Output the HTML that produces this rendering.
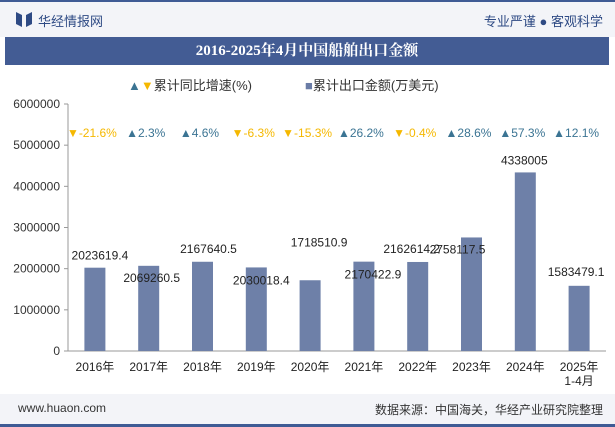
<!DOCTYPE html>
<html><head><meta charset="utf-8"><style>
body{margin:0;width:615px;height:427px;background:#fff;font-family:"Liberation Sans","Noto Sans CJK SC",sans-serif;overflow:hidden;position:relative}
.top{position:absolute;left:0;top:0;width:615px;height:37px;background:#f3f4f8;border-top:2px solid #3f5b95;box-sizing:border-box}
.title{position:absolute;left:5px;top:37px;width:604px;height:28px;background:#435c94;color:#fff;font:bold 15px "Liberation Serif","Noto Serif CJK SC",serif;text-align:center;line-height:28px}
.foot{position:absolute;left:0;top:394px;width:615px;height:33px;background:#f3f4f8;border-bottom:3px solid #3f5b95;box-sizing:border-box;font-size:12px;color:#333}
</style></head><body>
<div class="top">
<svg style="position:absolute;left:16px;top:10px" width="16" height="15"><path d="M0 0L6 3V15L0 12Z M16 0L10 3V15L16 12Z" fill="#2e4a84"/></svg>
<span style="position:absolute;left:38px;top:9px;font-size:13px;color:#2e4a84">华经情报网</span>
<span style="position:absolute;right:12px;top:9px;font-size:13px;color:#2e4a84">专业严谨 ● 客观科学</span>
</div>
<div class="title">2016-2025年4月中国船舶出口金额</div>
<div class="foot">
<span style="position:absolute;left:18px;top:7px">www.huaon.com</span>
<span style="position:absolute;right:12px;top:7px">数据来源：中国海关，华经产业研究院整理</span>
</div>
<svg id="c" width="615" height="427" style="position:absolute;left:0;top:0"></svg>
<script>
const categories=["2016年","2017年","2018年","2019年","2020年","2021年","2022年","2023年","2024年","2025年"];
const values=[2023619.4,2069260.5,2167640.5,2030018.4,1718510.9,2170422.9,2162614.2,2758117.5,4338005,1583479.1];
const valueLabels=["2023619.4","2069260.5","2167640.5","2030018.4","1718510.9","2170422.9","2162614.2","2758117.5","4338005","1583479.1"];
const growth=[-21.6,2.3,4.6,-6.3,-15.3,26.2,-0.4,28.6,57.3,12.1];
const yTicks=[0,1000000,2000000,3000000,4000000,5000000,6000000];
const svg=document.getElementById('c');const NS='http://www.w3.org/2000/svg';
const x0=68,x1=606,y0=351,y1=104,yMax=6000000;
const labDx=[5,3,6,5,9,9,-6,-14,-1,-3];
const labDy=[-8,16,-9,17,-34,17,-9,16,-8,-10];
const step=(x1-x0)/categories.length;
const xc=i=>x0+step*(i+0.5);
const y=v=>y0-(v/yMax)*(y0-y1);
function mk(t,a,txt){const e=document.createElementNS(NS,t);for(const k in a)e.setAttribute(k,a[k]);if(txt!=null)e.textContent=txt;svg.appendChild(e);return e;}
let e;
e=mk('line',{x1:x0,y1:y1,x2:x0,y2:y0,stroke:'#999'});


e=mk('line',{x1:x0,y1:y0,x2:x1,y2:y0,stroke:'#999'});


yTicks.forEach(t=>{
 mk('line',{x1:x0-4,y1:y(t),x2:x0,y2:y(t),stroke:'#999'});
 e=mk('text',{x:x0-8,y:y(t)+4,'text-anchor':'end','font-size':12,fill:'#333'},String(t));
 
 
});
categories.forEach((c,i)=>{
 e=mk('rect',{x:xc(i)-10.5,y:y(values[i]),width:21,height:y0-y(values[i]),fill:'#6e80a8'});
 
 
 e=mk('text',{x:xc(i)+labDx[i],y:y(values[i])+labDy[i],'text-anchor':'middle','font-size':12,fill:'#222'},valueLabels[i]);
 
 
 e=mk('text',{x:xc(i),y:y0+20,'text-anchor':'middle','font-size':12,fill:'#222'},c);
 
 
 const up=growth[i]>=0,col=up?'#3b7493':'#f5b800';
 e=mk('text',{x:xc(i)-3,y:137,'text-anchor':'middle','font-size':12,fill:col},(up?'▲':'▼')+growth[i].toFixed(1)+'%');
 
 
});
e=mk('text',{x:xc(9),y:y0+34,'text-anchor':'middle','font-size':12,fill:'#222'},'1-4月');


e=mk('text',{x:128,y:90,'font-size':13,fill:'#333'},'');
e.innerHTML='<tspan fill="#3b7493">▲</tspan><tspan fill="#f5b800">▼</tspan>累计同比增速(%)';


e=mk('text',{x:305,y:90,'font-size':13,fill:'#333'},'');
e.innerHTML='<tspan fill="#6a7ca6">■</tspan>累计出口金额(万美元)';


</script>
</body></html>
